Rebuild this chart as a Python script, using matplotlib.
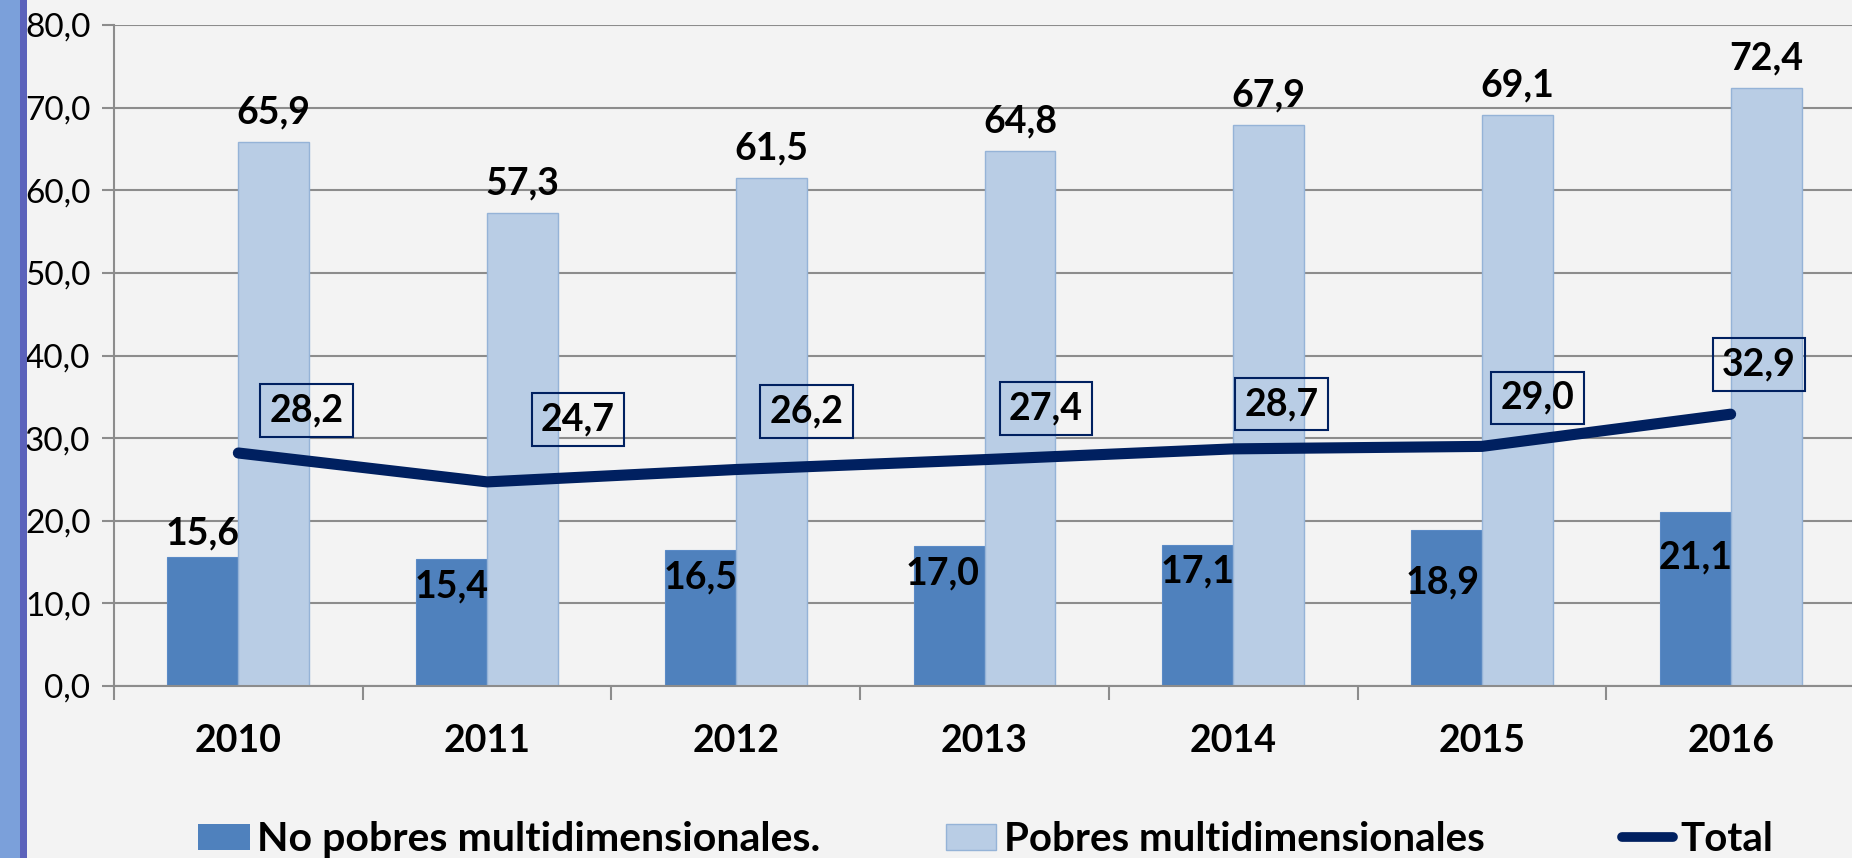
import numpy as np
import matplotlib
matplotlib.use('Agg')
import matplotlib.pyplot as plt
from matplotlib.patches import Rectangle
from matplotlib.lines import Line2D

years = ['2010', '2011', '2012', '2013', '2014', '2015', '2016']
no_pobres = [15.6, 15.4, 16.5, 17.0, 17.1, 18.9, 21.1]
pobres = [65.9, 57.3, 61.5, 64.8, 67.9, 69.1, 72.4]
total = [28.2, 24.7, 26.2, 27.4, 28.7, 29.0, 32.9]
yticks = [0, 10, 20, 30, 40, 50, 60, 70, 80]

DPI = 100
W, H = 1852, 858
BG = '#f3f3f3'
DARK = '#4f81bd'
LIGHT = '#b9cde5'
NAVY = '#002060'
GRID = '#8c8c8c'
FONT = 'Lato'
LBL = 27

plt.rcParams['font.family'] = [FONT, 'DejaVu Sans']

fig = plt.figure(figsize=(W / DPI, H / DPI), dpi=DPI)
fig.patch.set_facecolor(BG)

# decorative strip on the left
fig.add_artist(Rectangle((0, 0), 20 / W, 1, transform=fig.transFigure,
                         facecolor='#7ba0da', edgecolor='none'))
fig.add_artist(Rectangle((20 / W, 0), 7 / W, 1, transform=fig.transFigure,
                         facecolor='#5b62bb', edgecolor='none'))

ax = fig.add_axes([114 / W, (H - 686) / H, (1855 - 114) / W, (686 - 25) / H])
ax.set_facecolor(BG)
ax.patch.set_alpha(0)

x = np.arange(len(years))
bw = 0.285
ax.bar(x - bw / 2, no_pobres, bw, color=DARK, edgecolor='#5a8ac6', linewidth=0.8, zorder=2)
ax.bar(x + bw / 2, pobres, bw, color=LIGHT, edgecolor='#95b3d7', linewidth=1.0, zorder=2)
ax.plot(x, total, color=NAVY, linewidth=8, solid_capstyle='round',
        solid_joinstyle='round', zorder=3)

ax.set_xlim(-0.5, len(years) - 0.5)
ax.set_ylim(0, 80)
ax.set_yticks(yticks)
ax.set_yticklabels([f'{v:.1f}'.replace('.', ',') for v in yticks], fontsize=24)
ax.yaxis.grid(True, color=GRID, linewidth=1.5, zorder=0)
ax.set_axisbelow(True)

ax.set_xticks(x)
ax.set_xticklabels(years, fontsize=27, fontweight='bold')
ax.set_xticks(np.arange(len(years) + 1) - 0.5, minor=True)
ax.tick_params(axis='x', which='major', length=0, pad=27)
ax.tick_params(axis='x', which='minor', length=10, width=1.5, color=GRID)
ax.tick_params(axis='y', length=9, width=1.5, color=GRID, pad=8)

for s in ['top', 'right']:
    ax.spines[s].set_visible(False)
for s in ['left', 'bottom']:
    ax.spines[s].set_color(GRID)
    ax.spines[s].set_linewidth(1.5)

fmt = lambda v: f'{v:.1f}'.replace('.', ',')

# labels on light bars
for i, v in enumerate(pobres):
    ax.annotate(fmt(v), (x[i] + bw / 2, v), xytext=(0, 9), textcoords='offset points',
                ha='center', va='bottom', fontsize=LBL, fontweight='bold', zorder=5)

# labels on dark bars (first above, rest inside near top)
dark_dy = [17, -20, -20, -20, -19, -38, -33]
dark_dx = [0, 0, 0, -5, 0, -3, 0]
for i, v in enumerate(no_pobres):
    ax.annotate(fmt(v), (x[i] - bw / 2, v), xytext=(dark_dx[i], dark_dy[i]),
                textcoords='offset points', ha='center', va='center',
                fontsize=LBL, fontweight='bold', zorder=5)

# boxed labels on total line
box_dx = [58, 77, 60, 52, 41, 47, 24]
box_dy = [36, 53, 49, 43, 38, 41, 42]
for i, v in enumerate(total):
    ax.annotate(fmt(v), (x[i], v), xytext=(box_dx[i] * 1.181 * 0.72, box_dy[i] * 1.181 * 0.72),
                textcoords='offset points', ha='center', va='center',
                fontsize=LBL, fontweight='bold', zorder=6,
                bbox=dict(boxstyle='square,pad=0.25', facecolor='none',
                          edgecolor=NAVY, linewidth=1.5))

# legend
ly = (H - 851) / H
mid = (H - 837) / H
fig.add_artist(Rectangle((198 / W, mid - 13 / H), 52 / W, 26 / H, transform=fig.transFigure,
                         facecolor=DARK, edgecolor='none'))
fig.text(257 / W, ly, 'No pobres multidimensionales.', fontsize=29.5, fontweight='bold',
         ha='left', va='baseline')
fig.add_artist(Rectangle((946 / W, mid - 13 / H), 50 / W, 26 / H, transform=fig.transFigure,
                         facecolor=LIGHT, edgecolor='#95b3d7', linewidth=1))
fig.text(1004 / W, ly, 'Pobres multidimensionales', fontsize=29, fontweight='bold',
         ha='left', va='baseline')
fig.add_artist(Line2D([1622 / W, 1673 / W], [mid, mid], transform=fig.transFigure,
                      color=NAVY, linewidth=7, solid_capstyle='round'))
fig.text(1680 / W, ly, 'Total', fontsize=29, fontweight='bold', ha='left', va='baseline')

fig.savefig('out.png', dpi=DPI, facecolor=BG)
